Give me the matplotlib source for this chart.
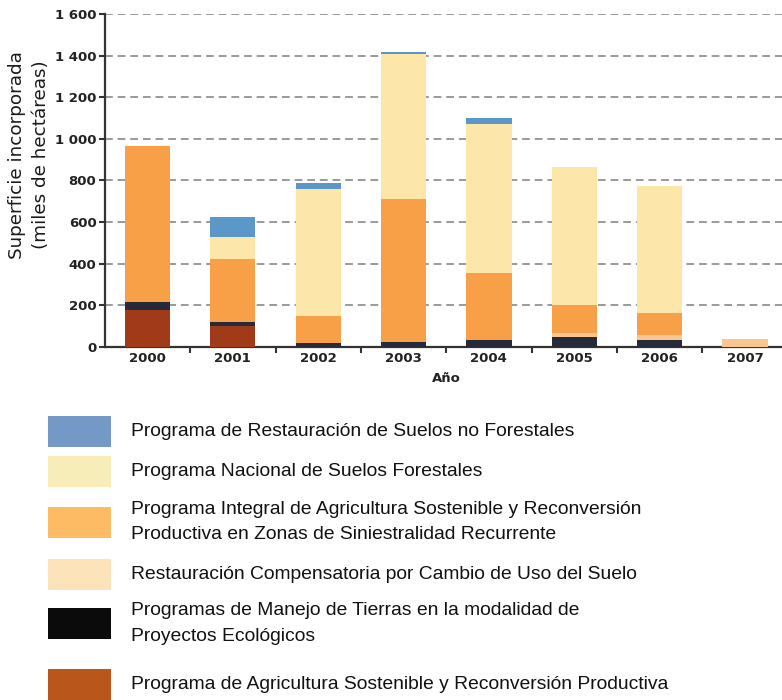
import numpy as np
import matplotlib
matplotlib.use("Agg")
import matplotlib.pyplot as plt
from matplotlib.patches import Rectangle

# data (miles de hectareas)
years = ["2000", "2001", "2002", "2003", "2004", "2005", "2006", "2007"]
agricultura = [175, 100, 0, 0, 0, 0, 0, 0]
manejo = [40, 17, 16, 24, 32, 45, 32, 0]
compensatoria = [0, 0, 0, 0, 0, 22, 26, 38]
integral = [750, 303, 133, 685, 321, 132, 102, 0]
nacional = [0, 109, 609, 697, 718, 667, 615, 0]
restauracion = [0, 96, 29, 10, 30, 0, 0, 0]

# stacking order bottom -> top
series = [agricultura, manejo, compensatoria, integral, nacional, restauracion]
bar_colors = ["#A13A19", "#272A3A", "#F9C591", "#F7A048", "#FDE6AA", "#5B97C9"]

legend_labels = [
    "Programa de Restauración de Suelos no Forestales",
    "Programa Nacional de Suelos Forestales",
    "Programa Integral de Agricultura Sostenible y Reconversión\nProductiva en Zonas de Siniestralidad Recurrente",
    "Restauración Compensatoria por Cambio de Uso del Suelo",
    "Programas de Manejo de Tierras en la modalidad de\nProyectos Ecológicos",
    "Programa de Agricultura Sostenible y Reconversión Productiva",
]
legend_colors = ["#7499C6", "#F7EDB8", "#FDBB63", "#FDE3B9", "#0B0B0B", "#B9561B"]

W, H = 782, 700
fig = plt.figure(figsize=(W / 100, H / 100), dpi=100)
ax = fig.add_axes([0.134, 0.5047, 0.8733, 0.4753])

x = np.arange(len(years))
bottom = np.zeros(len(years))
for vals, c in zip(series, bar_colors):
    ax.bar(x, vals, bottom=bottom, width=0.53, color=c, edgecolor="none", zorder=3)
    bottom += np.array(vals)

ax.set_xlim(-0.5, 7.5)
ax.set_ylim(0, 1600)
ax.set_yticks(range(0, 1601, 200))
ax.set_yticklabels(["0", "200", "400", "600", "800", "1 000", "1 200", "1 400", "1 600"],
                   fontsize=9.5, fontweight="bold", color="#222222")
ax.yaxis.grid(True, linestyle=(0, (4, 2.5)), color="#9a9a9a", linewidth=1.4, zorder=0)
ax.tick_params(axis="y", direction="out", length=4, width=1.5, color="#333333", pad=2)

ax.set_xticks(x)
ax.set_xticklabels(years, fontsize=9.5, fontweight="bold", color="#222222")
ax.set_xticks(x[:-1] + 0.5, minor=True)
ax.tick_params(axis="x", which="major", length=0, pad=4)
ax.tick_params(axis="x", which="minor", direction="out", length=4, width=1.5, color="#333333")

for s in ["top", "right"]:
    ax.spines[s].set_visible(False)
for s in ["left", "bottom"]:
    ax.spines[s].set_color("#333333")
    ax.spines[s].set_linewidth(1.6)

ax.set_xlabel("Año", fontsize=9.5, fontweight="bold", color="#222222", labelpad=5)
fig.text(29 / W, 1 - 155 / H, "Superficie incorporada\n(miles de hectáreas)",
         rotation=90, ha="center", va="center", fontsize=13.2, color="#1a1a1a",
         linespacing=1.38)

# legend drawn below the chart
box_centers = [431.5, 471, 522, 574.5, 623.5, 684.5]
for lab, c, yc in zip(legend_labels, legend_colors, box_centers):
    fig.add_artist(Rectangle((48 / W, 1 - (yc + 15.5) / H), 63 / W, 31 / H,
                             transform=fig.transFigure, color=c, lw=0))
    fig.text(131 / W, 1 - yc / H, lab, fontsize=13.9, family="Liberation Sans",
             color="#111111", va="center", ha="left", linespacing=1.66)

fig.savefig("out.png", dpi=100)
